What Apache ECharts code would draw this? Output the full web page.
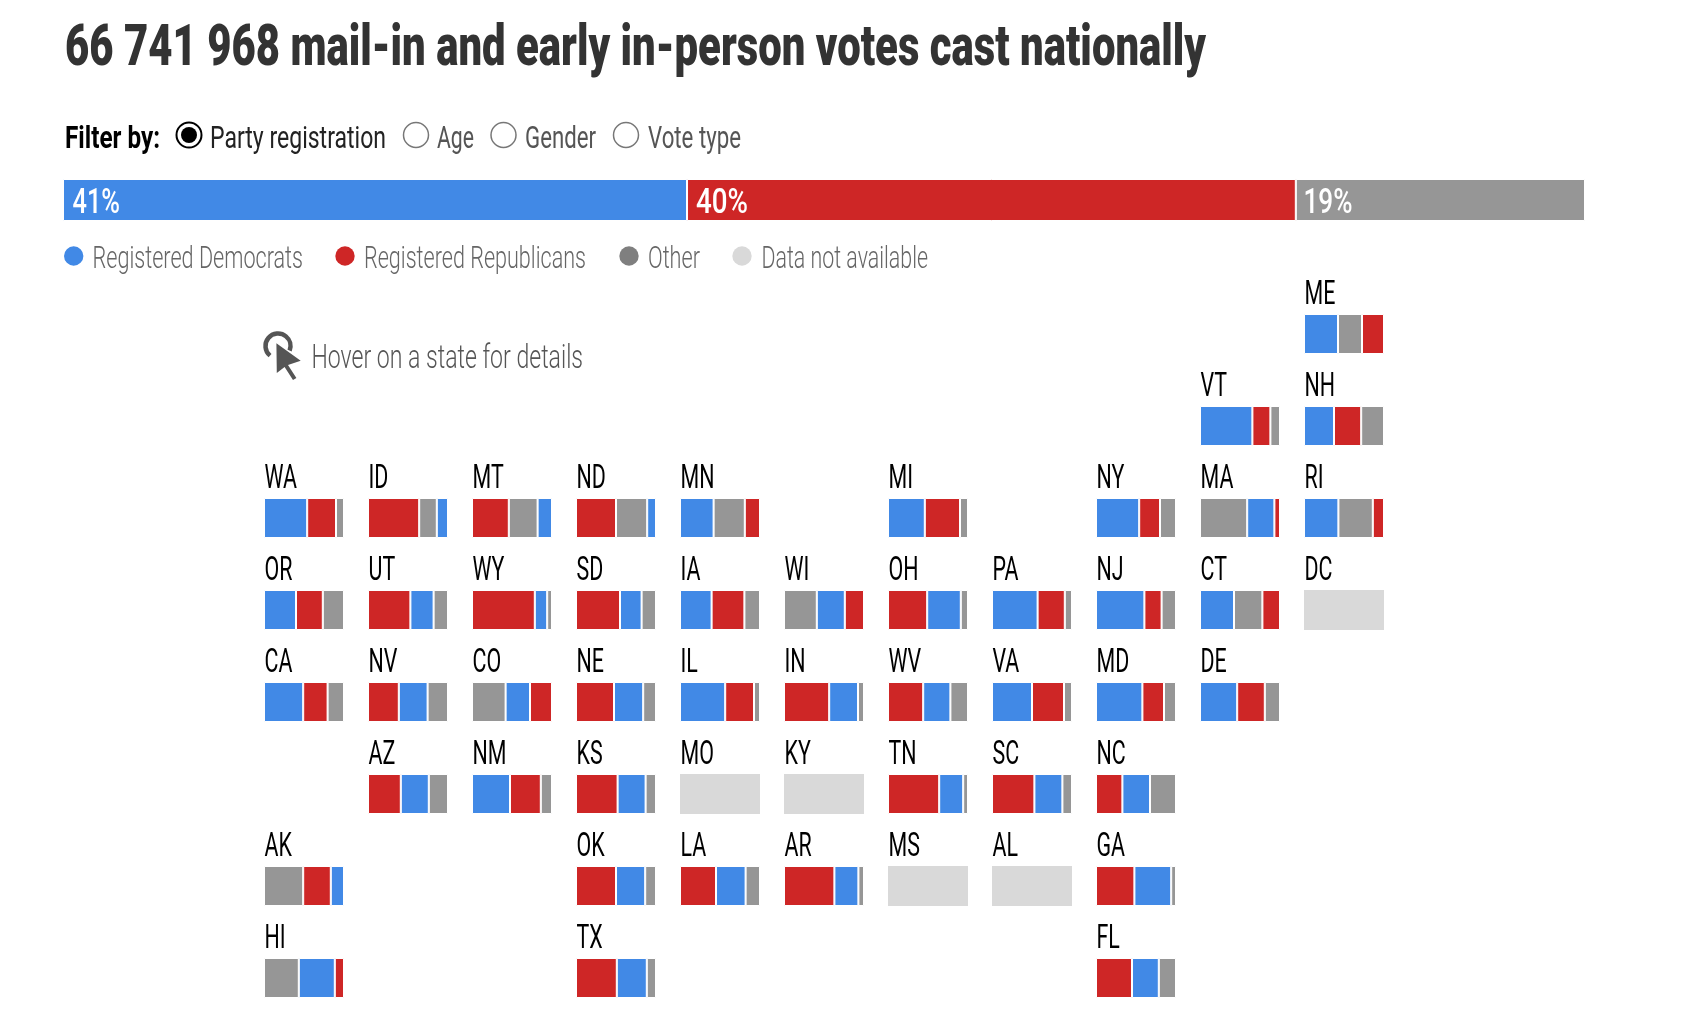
<!DOCTYPE html>
<html>
<head>
<meta charset="utf-8">
<style>html,body{margin:0;padding:0;background:#fff}#c{width:1705px;height:1031px}</style>
<script src="https://cdn.jsdelivr.net/npm/echarts@6/dist/echarts.min.js"></script>
</head>
<body>
<div id="c"></div>
<script>
const titleText = '66 741 968 mail-in and early in-person votes cast nationally';
const nationalLabels = ['D', 'R', 'O'];
const nationalShares = [41, 40, 19];
const legendLabels = ['Registered Democrats', 'Registered Republicans', 'Other', 'Data not available'];
const filterLabels = ['Party registration', 'Age', 'Gender', 'Vote type'];

const stateCodes = ['ME','VT','NH','WA','ID','MT','ND','MN','MI','NY','MA','RI','OR','UT','WY','SD','IA','WI','OH','PA','NJ','CT','DC','CA','NV','CO','NE','IL','IN','WV','VA','MD','DE','AZ','NM','KS','MO','KY','TN','SC','NC','AK','OK','LA','AR','MS','AL','GA','HI','TX','FL'];
const demShare   = [42.5,65.5,37.5,54,14,18,11,42,46,54,34,43,40,29,15.5,27,39.5,35,42,57,60.5,42.5,null,49,36,30.5,36.5,56.5,36,34,50,58,46.5,35,47.5,35,null,null,30,35,34.5,16.5,36.5,37,30,null,null,46,45,37.5,33.5];
const repShare   = [27.5,22.5,34,36,64,46,50,19,44,26,7,14,33.5,53,78.5,55,41,24,49,34,21.5,22,null,30.5,38.5,27.5,47.5,36,56.5,44,40,27,34.5,41,38.5,52,null,null,64,53,33,34.5,50,45,63,null,null,48,11.5,51,45];
const otherShare = [30,12,28.5,10,22,36,39,39,10,20,59,43,26.5,18,6,18,19.5,41,9,9,18,35.5,null,20.5,25.5,42,16,7.5,7.5,22,10,15,19,24,14,13,null,null,6,12,32.5,49,13.5,18,7,null,null,6,43.5,11.5,21.5];
const stackOrder = ['DOR','DRO','DRO','DRO','ROD','ROD','ROD','DOR','DRO','DRO','ODR','DOR','DRO','RDO','RDO','RDO','DRO','ODR','RDO','DRO','DRO','DOR','','DRO','RDO','ODR','RDO','DRO','RDO','RDO','DRO','DRO','DRO','RDO','DRO','RDO','','','RDO','RDO','RDO','ORD','RDO','RDO','RDO','','','RDO','ODR','RDO','RDO'];

// tile-map layout: row, column for each state, in stateCodes order
const tileRow = [0,1,1,2,2,2,2,2,2,2,2,2,3,3,3,3,3,3,3,3,3,3,3,4,4,4,4,4,4,4,4,4,4,5,5,5,5,5,5,5,5,6,6,6,6,6,6,6,7,7,7];
const tileCol = [10,9,10,0,1,2,3,4,6,8,9,10,0,1,2,3,4,5,6,7,8,9,10,0,1,2,3,4,5,6,7,8,9,1,2,3,4,5,6,7,8,0,3,4,5,6,7,8,0,3,8];

const COLORS = {D:'#4189e6', R:'#ce2626', O:'#969696', NA:'#d9d9d9'};
const SANS = 'Roboto, "Liberation Sans", sans-serif';
const meas = document.createElement('canvas').getContext('2d');

function txt(text, x, y, font, fill, opt) {
  opt = opt || {};
  let sx = opt.sx;
  if (opt.w) { meas.font = font; sx = opt.w / meas.measureText(text).width; }
  return {type:'text', x:x, y:y, scaleX:sx||1, z:10, silent:true,
    style:{text:text, font:font, fill:fill, align:'left', verticalAlign:'middle'}};
}

const grids=[], xAxes=[], yAxes=[], series=[], graphics=[];
function addStack(idx, rect, cat, parts, gapped) {
  const total = parts.reduce((a,p)=>a+p.v,0);
  grids.push({left:rect[0], top:rect[1], width:rect[2], height:rect[3], containLabel:false});
  xAxes.push({type:'value', gridIndex:idx, min:0, max:total, show:false});
  yAxes.push({type:'category', gridIndex:idx, data:[cat], show:false});
  parts.forEach(p=>series.push({type:'bar', name:cat+' '+p.n, xAxisIndex:idx, yAxisIndex:idx, stack:'s'+idx,
    barWidth:'100%', data:[p.v], animation:false, silent:false,
    itemStyle:{color:p.c, borderColor:'#fff', borderWidth:gapped?1:0}}));
}

// national bar
const natParts = nationalShares.map((v,i)=>({v:v,n:nationalLabels[i],c:COLORS[nationalLabels[i]]}));
addStack(0,[63,179,1522,42],'National',natParts,true);

// states
stateCodes.forEach((code,i)=>{
  const x = 265 + tileCol[i]*104, y = 315 + tileRow[i]*92;
  const vals = {D:demShare[i],R:repShare[i],O:otherShare[i]};
  const parts = stackOrder[i] ? stackOrder[i].split('').map(k=>({v:vals[k],n:k,c:COLORS[k]}))
                              : [{v:100,n:'NA',c:COLORS.NA}];
  addStack(i+1,[x-1,y-1,80,40],code,parts,!!stackOrder[i]);
  graphics.push(txt(code, x-0.5, y-20, '400 34px '+SANS, '#000', {sx:0.63}));
});

// title
graphics.push(txt(titleText, 65, 50, '900 58px '+SANS, '#333', {w:1141}));

// filter row
graphics.push(txt('Filter by:', 65, 139.5, '700 32px '+SANS, '#000', {w:95}));
const radioCx=[189,416,503.5,626], radioTx=[[210,176],[437,37],[525,71],[648,93]];
filterLabels.forEach((t,i)=>{
  graphics.push({type:'circle', shape:{cx:radioCx[i],cy:135,r:12.5}, z:10, silent:true,
    style:{fill:'#fff',stroke:i==0?'#000':'#777',lineWidth:i==0?2:1.5}});
  if(i==0) graphics.push({type:'circle', shape:{cx:radioCx[i],cy:135,r:8}, z:11, silent:true, style:{fill:'#000'}});
  graphics.push(txt(t, radioTx[i][0], 139.5, '400 32px '+SANS, i==0?'#222':'#555', {w:radioTx[i][1]}));
});

// national labels
const natLabelX=[[72.5,47.5],[696,52],[1303.5,49]];
nationalShares.forEach((v,i)=>graphics.push(txt(v+'%', natLabelX[i][0], 204.5, '500 35px '+SANS, '#fff', {w:natLabelX[i][1]})));

// legend
const legCx=[73.7,345,629,742], legC=[COLORS.D,COLORS.R,'#7f7f7f',COLORS.NA], legT=[[92.5,210.5],[364,222],[648,52],[761.5,166.5]];
legendLabels.forEach((t,i)=>{
  graphics.push({type:'circle', shape:{cx:legCx[i],cy:256,r:9.7}, z:10, silent:true, style:{fill:legC[i]}});
  graphics.push(txt(t, legT[i][0], 259.5, '300 32px '+SANS, '#666', {w:legT[i][1]}));
});

// hover hint
graphics.push({type:'arc', shape:{cx:278,cy:346,r:12.5,startAngle:Math.PI*0.72,endAngle:Math.PI*0.12}, z:10, silent:true,
  style:{fill:null,stroke:'#555',lineWidth:4.5}});
graphics.push({type:'polygon', shape:{points:[[276.4,343.3],[300.7,360.7],[288,365],[296.4,378],[293,380],[284.6,367],[276.8,373]]}, z:11, silent:true,
  style:{fill:'#555',stroke:'#fff',lineWidth:0}});
graphics.push(txt('Hover on a state for details', 311.5, 359.5, '300 33px '+SANS, '#555', {w:271.5}));

const chart = echarts.init(document.getElementById('c'), null, {renderer:'canvas'});
chart.setOption({
  animation:false, backgroundColor:'#fff',
  grid:grids, xAxis:xAxes, yAxis:yAxes, series:series, graphic:graphics
});
</script>
</body>
</html>
